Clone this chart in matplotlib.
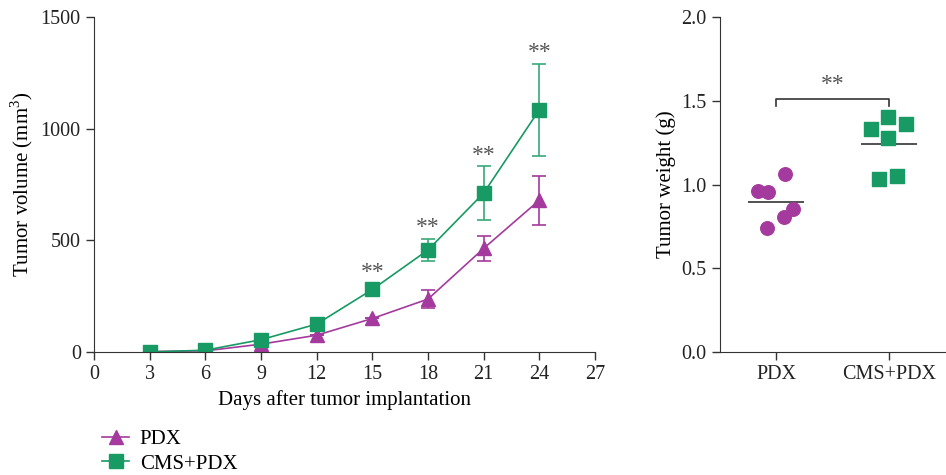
import matplotlib
matplotlib.use("Agg")
import matplotlib.pyplot as plt
from matplotlib.lines import Line2D
import numpy as np

plt.rcParams['font.family'] = ['Liberation Serif', 'DejaVu Serif']
plt.rcParams['font.size'] = 15
plt.rcParams['mathtext.fontset'] = 'custom'
plt.rcParams['mathtext.rm'] = 'Liberation Serif'

# growth curve data
days = [3, 6, 9, 12, 15, 18, 21, 24]
pdx_vol = [2, 5, 35, 75, 150, 237, 464, 680]
pdx_err = [0, 0, 0, 0, 0, 40, 55, 110]
cms_vol = [0, 8, 55, 125, 280, 457, 712, 1085]
cms_err = [0, 0, 0, 0, 25, 50, 120, 205]
sig_days = [15, 18, 21, 24]

# tumor weight data
groups = ['PDX', 'CMS+PDX']
pdx_wt = [0.961, 0.955, 1.063, 0.854, 0.805, 0.742]
pdx_jit = [-0.16, -0.07, 0.08, 0.15, 0.07, -0.08]
cms_wt = [1.331, 1.403, 1.361, 1.278, 1.033, 1.051]
cms_jit = [-0.16, -0.01, 0.15, -0.01, -0.09, 0.07]

purple = '#a43a9d'
green = '#179a63'
green_err = '#3aa878'
star_col = '#555555'

fig = plt.figure(figsize=(9.46, 4.75), dpi=100)
ax = fig.add_axes([0.0994, 0.259, 0.5296, 0.705])
ax2 = fig.add_axes([0.761, 0.259, 0.238, 0.705])

for a in (ax, ax2):
    a.spines['top'].set_visible(False)
    a.spines['right'].set_visible(False)
    a.tick_params(direction='out', length=6, width=1, color='#333333', labelcolor='#222222',
                  labelsize=14.5)
    a.spines['left'].set_color('#333333')
    a.spines['bottom'].set_color('#333333')

ax.errorbar(days, pdx_vol, yerr=pdx_err, color=purple, marker='^', markersize=10,
            lw=1.2, capsize=5, elinewidth=1.2, capthick=1.2)
ax.errorbar(days, cms_vol, yerr=cms_err, color=green, ecolor=green_err, marker='s', markersize=9.5,
            lw=1.2, capsize=5, elinewidth=1.2, capthick=1.2)
for d in sig_days:
    i = days.index(d)
    ax.text(d, cms_vol[i] + cms_err[i] + 50, '**', ha='center', va='center', fontsize=17,
            color=star_col)

ax.set_xlim(0, 27)
ax.set_ylim(0, 1500)
ax.set_xticks(range(0, 28, 3))
ax.set_yticks([0, 500, 1000, 1500])
ax.set_xlabel('Days after tumor implantation')
ax.set_ylabel('Tumor volume (mm$^\\mathregular{3}$)')

# weights
ax2.scatter(1 + np.array(pdx_jit), pdx_wt, s=95, marker='o', color=purple, zorder=3)
ax2.scatter(2 + np.array(cms_jit), cms_wt, s=95, marker='s', color=green, zorder=3)
ax2.hlines(np.mean(pdx_wt), 0.75, 1.25, color='#333333', lw=1.2)
ax2.hlines(np.mean(cms_wt), 1.75, 2.25, color='#333333', lw=1.2)
ax2.plot([1, 1, 2, 2], [1.47, 1.51, 1.51, 1.47], color='#333333', lw=1.2)
ax2.text(1.5, 1.6, '**', ha='center', va='center', fontsize=17, color=star_col)
ax2.set_xlim(0.5, 2.5)
ax2.set_ylim(0, 2.0)
ax2.set_xticks([1, 2])
ax2.set_xticklabels(groups)
ax2.set_yticks([0, 0.5, 1.0, 1.5, 2.0])
ax2.set_yticklabels(['0.0', '0.5', '1.0', '1.5', '2.0'])
ax2.set_ylabel('Tumor weight (g)')

h1 = Line2D([], [], color=purple, marker='^', markersize=10, lw=1.2, label='PDX')
h2 = Line2D([], [], color=green, marker='s', markersize=9.5, lw=1.2, label='CMS+PDX')
fig.legend(handles=[h1, h2], loc='upper left', bbox_to_anchor=(0.097, 0.118), frameon=False,
           handlelength=1.3, handletextpad=0.5, labelspacing=0.25, borderpad=0, fontsize=15)

fig.savefig('out.png', dpi=100)
